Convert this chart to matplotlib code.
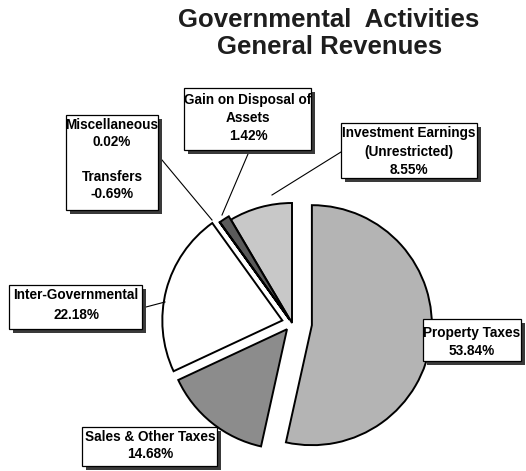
import matplotlib
matplotlib.use("Agg")
import matplotlib.pyplot as plt
from matplotlib.patches import Rectangle

# General revenue shares (percent of total)
categories = ["Investment Earnings (Unrestricted)", "Gain on Disposal of Assets",
              "Miscellaneous", "Inter-Governmental", "Sales & Other Taxes",
              "Property Taxes"]
shares = [8.55, 1.42, 0.02, 22.18, 14.68, 53.84]
transfers = -0.69

colors = ["#c8c8c8", "#5a5a5a", "#5a5a5a", "#ffffff", "#8c8c8c", "#b4b4b4"]
# offsets in pixels (the pie is drawn in pixel units)
explode = [0, 4, 4, 10, 8, 20]

W, H = 526, 471
plt.rcParams["font.family"] = ["Liberation Sans", "DejaVu Sans"]

fig = plt.figure(figsize=(W / 100, H / 100), dpi=100)
ax = fig.add_axes([0, 0, 1, 1])


def Y(y):
    # positions below are given from the top edge
    return H - y


ax.pie(shares, explode=explode, colors=colors, startangle=90,
       counterclock=True, center=(292, Y(323)), radius=120,
       wedgeprops=dict(edgecolor="black", linewidth=1.4))
ax.set_xlim(0, W)
ax.set_ylim(0, H)
ax.set_aspect("equal")
ax.axis("off")


def label_box(x0, y0, x1, y1, lines, tx, fs=9.8):
    sh = 4
    ax.add_patch(Rectangle((x0 + sh, Y(y1 + sh)), x1 - x0, y1 - y0,
                           facecolor="#3a3a3a", edgecolor="none", zorder=5))
    ax.add_patch(Rectangle((x0, Y(y1)), x1 - x0, y1 - y0,
                           facecolor="white", edgecolor="black", linewidth=0.9,
                           zorder=6))
    for txt, ty in lines:
        ax.text(tx, Y(ty), txt, ha="center", va="center", fontsize=fs,
                fontweight="bold", zorder=7)


def leader(x0, y0, x1, y1):
    ax.plot([x0, x1], [Y(y0), Y(y1)], color="black", lw=0.8, zorder=4)


pct = {c: s for c, s in zip(categories, shares)}

label_box(66, 115, 158, 210,
          [("Miscellaneous", 125), (f"{pct['Miscellaneous']:.2f}%", 142),
           ("Transfers", 177), (f"{transfers:.2f}%", 194)], 112)
label_box(184, 88, 311, 150,
          [("Gain on Disposal of", 100), ("Assets", 118),
           (f"{pct['Gain on Disposal of Assets']:.2f}%", 136)], 248)
label_box(341, 123, 477, 178,
          [("Investment Earnings", 133), ("(Unrestricted)", 152),
           (f"{pct['Investment Earnings (Unrestricted)']:.2f}%", 170)], 409)
label_box(9, 285, 142, 329,
          [("Inter-Governmental", 295),
           (f"{pct['Inter-Governmental']:.2f}%", 315)], 76)
label_box(423, 319, 521, 361,
          [("Property Taxes", 333), (f"{pct['Property Taxes']:.2f}%", 351)], 472)
label_box(82, 427, 217, 466,
          [("Sales & Other Taxes", 437),
           (f"{pct['Sales & Other Taxes']:.2f}%", 454)], 150)

leader(162, 160, 212, 220)
leader(248, 154, 222, 215)
leader(341, 152, 272, 195)
leader(146, 307, 165, 302)

ax.text(329, Y(20), "Governmental  Activities", ha="center", va="center",
        fontsize=18.5, fontweight="bold", color="#1e1e1e")
ax.text(330, Y(47), "General Revenues", ha="center", va="center",
        fontsize=18.5, fontweight="bold", color="#1e1e1e")

fig.savefig("out.png", dpi=100)
